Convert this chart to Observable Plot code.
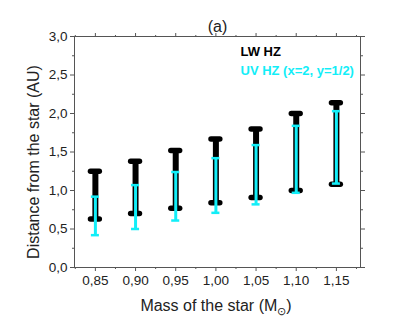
<!DOCTYPE html>
<html>
<head>
<meta charset="utf-8">
<script src="https://cdn.jsdelivr.net/npm/d3@7"></script>
<script src="https://cdn.jsdelivr.net/npm/@observablehq/plot@0.6"></script>
<style>
  html, body { margin: 0; padding: 0; background: #fff; }
</style>
</head>
<body>
<div id="chart"></div>
<script>
// ---- data ----
const masses   = [0.85, 0.90, 0.95, 1.00, 1.05, 1.10, 1.15];
const lwInner  = [0.63, 0.70, 0.77, 0.84, 0.91, 1.00, 1.08];
const lwOuter  = [1.25, 1.38, 1.52, 1.67, 1.80, 2.00, 2.14];
const uvInner  = [0.42, 0.50, 0.61, 0.71, 0.82, 0.97, 1.09];
const uvOuter  = [0.92, 1.07, 1.24, 1.42, 1.59, 1.84, 2.03];
const xTicks   = [0.85, 0.90, 0.95, 1.00, 1.05, 1.10, 1.15];
const xMinor   = [0.825, 0.875, 0.925, 0.975, 1.025, 1.075, 1.125, 1.175];
const yTicks   = [0, 0.5, 1.0, 1.5, 2.0, 2.5, 3.0];
const yMinor   = [0.25, 0.75, 1.25, 1.75, 2.25, 2.75];
const titleText = "(a)";
const legendLW = "LW HZ";
const legendUV = "UV HZ (x=2, y=1/2)";
const yLabel = "Distance from the star (AU)";

const lw = masses.map((m, i) => ({mass: m, lo: lwInner[i], hi: lwOuter[i]}));
const uv = masses.map((m, i) => ({mass: m, lo: uvInner[i], hi: uvOuter[i]}));
const lwCaps = lw.flatMap(d => [{mass: d.mass, y: d.lo}, {mass: d.mass, y: d.hi}]);
const uvCaps = uv.flatMap(d => [{mass: d.mass, y: d.lo}, {mass: d.mass, y: d.hi}]);

const fmt = d => d.toFixed(2).replace(".", ",");
const fmtY = d => d.toFixed(1).replace(".", ",");
const cyan = "#12eef8";
const axisColor = "#555";
const font = "'Liberation Sans', Arial, sans-serif";

const plot = Plot.plot({
  width: 414,
  height: 320,
  marginLeft: 74,
  marginRight: 54,
  marginTop: 36,
  marginBottom: 53,
  style: {fontFamily: font, fontSize: "13.5px", color: "#222", background: "#fff"},
  x: {domain: [0.824, 1.18]},
  y: {domain: [0, 3]},
  marks: [
    Plot.frame({stroke: axisColor}),
    // bottom axis
    Plot.axisX({anchor: "bottom", ticks: xTicks, tickSize: 4, tickPadding: 4, tickFormat: fmt, label: null, stroke: axisColor, fill: "#222", fontSize: 13.5}),
    Plot.axisX({anchor: "bottom", ticks: xMinor, tickSize: 2, tickFormat: () => "", label: null, stroke: axisColor}),
    // top axis
    Plot.axisX({anchor: "top", ticks: xTicks, tickSize: 4, tickFormat: () => "", label: null, stroke: axisColor}),
    Plot.axisX({anchor: "top", ticks: xMinor, tickSize: 2, tickFormat: () => "", label: null, stroke: axisColor}),
    // left axis
    Plot.axisY({anchor: "left", ticks: yTicks, tickSize: 4, tickPadding: 3, tickFormat: fmtY, label: null, stroke: axisColor, fill: "#222", fontSize: 13.5}),
    Plot.axisY({anchor: "left", ticks: yMinor, tickSize: 2, tickFormat: () => "", label: null, stroke: axisColor}),
    // right axis
    Plot.axisY({anchor: "right", ticks: yTicks, tickSize: 4, tickFormat: () => "", label: null, stroke: axisColor}),
    Plot.axisY({anchor: "right", ticks: yMinor, tickSize: 2, tickFormat: () => "", label: null, stroke: axisColor}),
    // LW HZ (black)
    Plot.ruleX(lw, {x: "mass", y1: "lo", y2: "hi", stroke: "black", strokeWidth: 6}),
    Plot.ruleY(lwCaps, {y: "y", x1: d => d.mass - 0.0055, x2: d => d.mass + 0.0055, stroke: "black", strokeWidth: 5.5, strokeLinecap: "round"}),
    // UV HZ (cyan)
    Plot.ruleX(uv, {x: "mass", y1: "lo", y2: "hi", stroke: cyan, strokeWidth: 3}),
    Plot.ruleY(uvCaps, {y: "y", x1: d => d.mass - 0.005, x2: d => d.mass + 0.005, stroke: cyan, strokeWidth: 2.5}),
    // title
    Plot.text([titleText], {text: d => d, frameAnchor: "top", dy: -10, fontSize: 16, fill: "#222", lineAnchor: "middle"}),
    // legend
    Plot.text([legendLW], {text: d => d, frameAnchor: "top-left", dx: 166, dy: 15, textAnchor: "start", lineAnchor: "middle", fontSize: 13, fontWeight: "bold", fill: "black"}),
    Plot.text([legendUV], {text: d => d, frameAnchor: "top-left", dx: 166, dy: 34, textAnchor: "start", lineAnchor: "middle", fontSize: 13, fontWeight: "bold", fill: cyan}),
    // y label
    Plot.text([yLabel], {text: d => d, frameAnchor: "left", dx: -41, dy: 10, rotate: -90, textAnchor: "middle", lineAnchor: "middle", fontSize: 16, fill: "#222"})
  ]
});

document.getElementById("chart").appendChild(plot);

// x label with subscript sun symbol
const svg = d3.select(plot);
const xl = svg.append("text")
  .attr("x", 216)
  .attr("y", 311)
  .attr("text-anchor", "middle")
  .attr("font-family", font)
  .attr("font-size", 16)
  .attr("fill", "#222");
xl.append("tspan").text("Mass of the star (M");
xl.append("tspan").attr("font-size", 11).attr("dy", 4).text("\u2299");
xl.append("tspan").attr("dy", -4).text(")");
</script>
</body>
</html>
